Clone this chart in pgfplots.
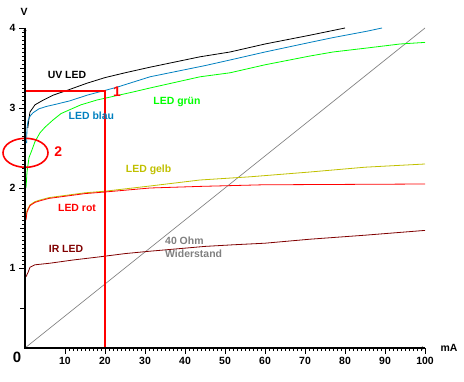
\documentclass[border=0pt]{standalone}
\usepackage{fontspec}
\setmainfont{Liberation Sans}
\usepackage{pgfplots}
\pgfplotsset{compat=1.18}
\definecolor{cblue}{RGB}{0,128,192}
\definecolor{cgreen}{RGB}{0,255,0}
\definecolor{cyellow}{RGB}{192,192,0}
\definecolor{cdred}{RGB}{128,0,0}
\definecolor{cgray}{RGB}{128,128,128}
\newcommand{\tl}[1]{{\fontsize{10.5}{12}\selectfont\bfseries #1}}
\begin{document}
\begin{tikzpicture}
\useasboundingbox (-25bp,-34bp) rectangle (439bp,348bp);
\begin{axis}[
  at={(0,0)}, anchor=south west,
  scale only axis, width=400bp, height=320bp,
  xmin=0, xmax=100, ymin=0, ymax=4,
  axis lines=left,
  tick align=outside,
  major tick length=6bp, minor tick length=3bp,
  tick style={black, line width=0.8bp},
  xtick={10,20,...,100},
  xticklabels={\tl{10},\tl{20},\tl{30},\tl{40},\tl{50},\tl{60},\tl{70},\tl{80},\tl{90},\tl{100}},
  ytick={1,2,3,4},
  yticklabels={\tl{1},\tl{2},\tl{3},\tl{4}},
  minor x tick num=9,
  minor y tick num=19,
  extra y ticks={0.5,1.5,2.5,3.5},
  extra y tick labels={},
  extra y tick style={major tick length=5bp},
]
\addplot[cgray, line width=0.7bp] coordinates {(0,0) (100,4)};
\addplot[black, line width=0.8bp] coordinates {
(0.7,2.75)(1,2.87)(1.25,2.95)(2.5,3.04)(4.6,3.1)(7,3.16)(10.5,3.22)(15.5,3.31)(20,3.38)(25,3.44)(31.25,3.51)(43.75,3.64)(51.25,3.70)(60,3.80)(71.25,3.91)(80,4.0)};
\addplot[cblue, line width=0.8bp] coordinates {
(0.4,2.56)(0.5,2.75)(0.8,2.85)(1.3,2.9)(2,2.94)(3.5,2.99)(5.4,3.02)(8,3.05)(11.25,3.09)(15.5,3.16)(20,3.22)(23,3.26)(31.25,3.39)(45,3.53)(51.25,3.60)(60,3.70)(71.25,3.82)(77,3.88)(85.5,3.96)(89.25,4.0)};
\addplot[cgreen, line width=0.8bp] coordinates {
(0.25,2.0)(0.5,2.2)(1,2.38)(1.7,2.47)(2.5,2.58)(3.75,2.69)(5,2.76)(7,2.85)(9,2.93)(11.25,2.98)(14,3.04)(18,3.1)(27,3.2)(31.25,3.25)(43.75,3.39)(51.25,3.44)(60,3.54)(71.25,3.65)(77,3.70)(85.5,3.75)(93.75,3.80)(100,3.82)};
\addplot[cyellow, line width=0.8bp] coordinates {
(0.25,1.62)(0.5,1.72)(1.25,1.79)(2.5,1.83)(3.75,1.85)(6,1.88)(10.5,1.91)(15,1.94)(20,1.96)(31.25,2.025)(43.75,2.1)(56.25,2.14)(71.25,2.2)(85,2.26)(100,2.3)};
\addplot[red, line width=0.8bp] coordinates {
(0.25,1.6)(0.5,1.7)(1.25,1.78)(2.5,1.82)(3.75,1.84)(6,1.87)(10.5,1.9)(15,1.93)(20,1.95)(31.25,2.0)(43.75,2.02)(59.4,2.04)(80,2.045)(100,2.05)};
\addplot[cdred, line width=0.8bp] coordinates {
(0.25,0.89)(0.8,0.95)(1.25,1.01)(2.5,1.04)(6.25,1.06)(12,1.1)(18.75,1.14)(25,1.18)(31.25,1.21)(45,1.27)(52,1.29)(60,1.31)(71.25,1.36)(85,1.41)(100,1.47)};
\addplot[red, line width=2.2bp] coordinates {(0,3.21)(20,3.21)(20,0)};
\coordinate (E) at (axis cs:0.125,2.44);
\begin{scope}[every node/.style={font=\bfseries\fontsize{10.5}{12}\selectfont, inner sep=0pt}]
\node[black] at (axis cs:10.5,3.41) {UV LED};
\node[cblue] at (axis cs:16.6,2.9) {LED blau};
\node[cgreen] at (axis cs:38,3.07) {LED grün};
\node[cyellow] at (axis cs:30.9,2.225) {LED gelb};
\node[red] at (axis cs:13,1.75) {LED rot};
\node[cdred] at (axis cs:10.25,1.24) {IR LED};
\node[cgray, anchor=west] at (axis cs:35,1.34) {40 Ohm};
\node[cgray, anchor=west] at (axis cs:35,1.18) {Widerstand};
\end{scope}
\node[red, font=\bfseries\fontsize{14}{16}\selectfont, inner sep=0pt] at (axis cs:23,3.2) {1};
\node[red, font=\bfseries\fontsize{14}{16}\selectfont, inner sep=0pt] at (axis cs:8.3,2.46) {2};
\end{axis}
\draw[red, line width=1.6bp] (E) ellipse [x radius=22.5bp, y radius=14.5bp];
\draw[black, line width=2bp] (0,320bp) -- (0,0) -- (400bp,0);
\node[font=\bfseries\fontsize{10.5}{12}\selectfont, inner sep=0pt] at (-1bp,336bp) {V};
\node[font=\bfseries\fontsize{10.5}{12}\selectfont, inner sep=0pt] at (424bp,0bp) {mA};
\node[font=\bfseries\fontsize{15}{17}\selectfont, inner sep=0pt] at (-8bp,-9.5bp) {0};
\end{tikzpicture}
\end{document}
